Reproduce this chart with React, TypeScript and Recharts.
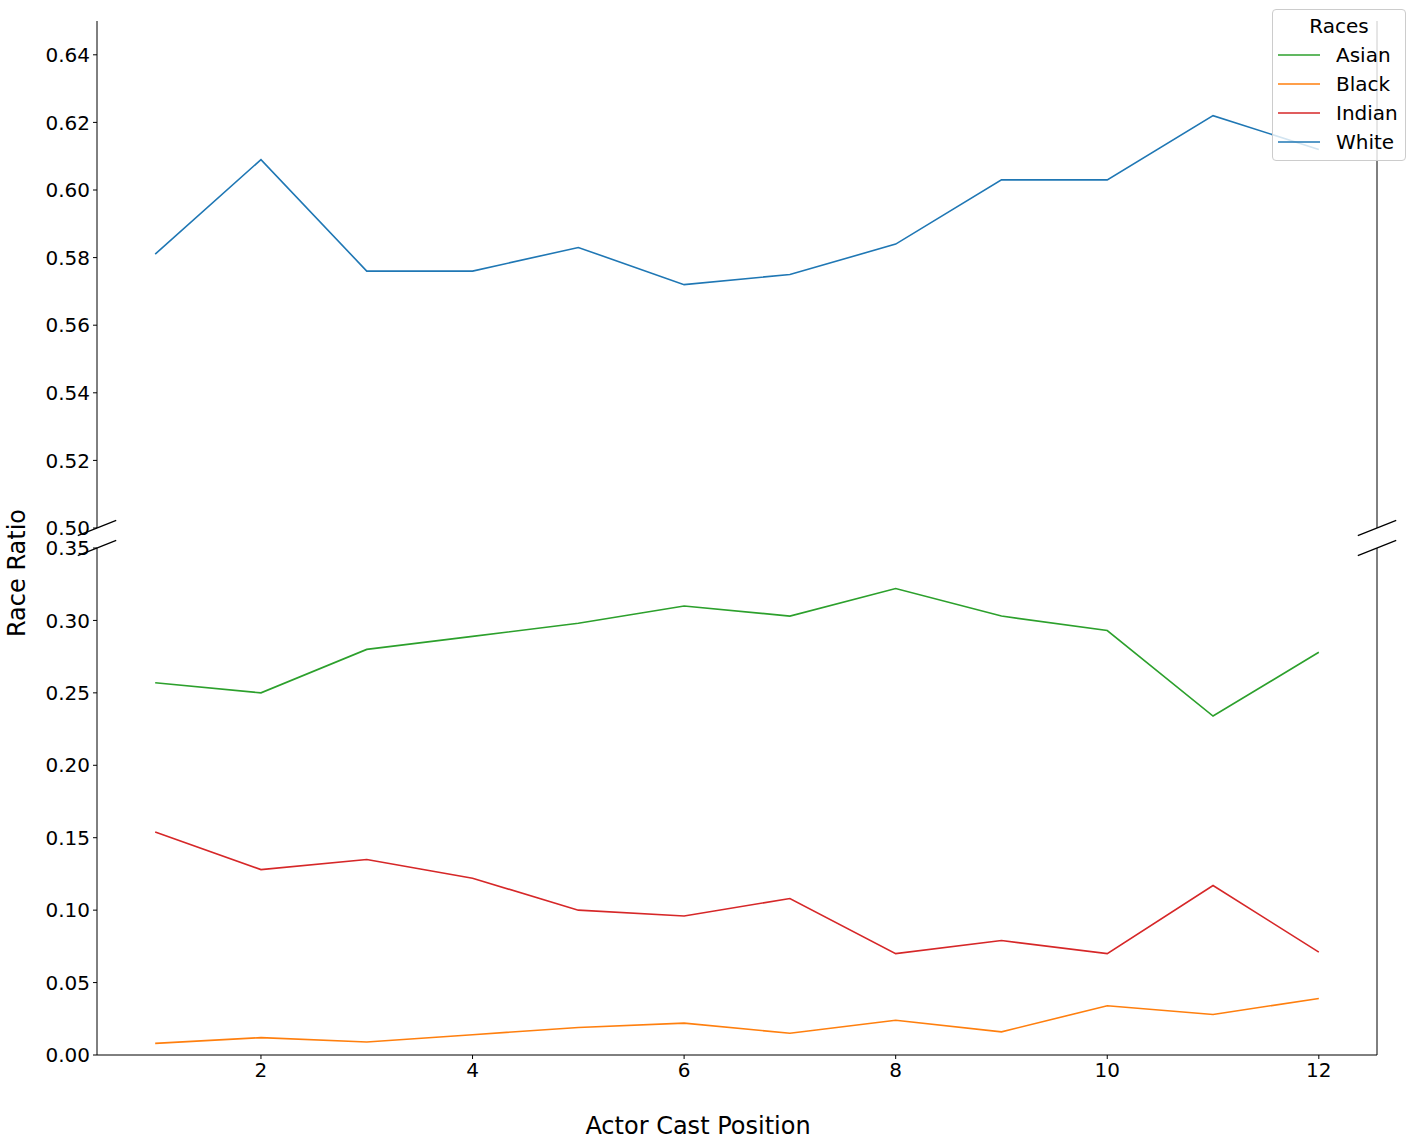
import { LineChart, Line, XAxis, YAxis, ReferenceLine, Legend } from "recharts";

const positions = [1, 2, 3, 4, 5, 6, 7, 8, 9, 10, 11, 12];
const asian = [0.257, 0.25, 0.28, 0.289, 0.298, 0.31, 0.303, 0.322, 0.303, 0.293, 0.234, 0.278];
const black = [0.008, 0.012, 0.009, 0.014, 0.019, 0.022, 0.015, 0.024, 0.016, 0.034, 0.028, 0.039];
const indian = [0.154, 0.128, 0.135, 0.122, 0.1, 0.096, 0.108, 0.07, 0.079, 0.07, 0.117, 0.071];
const white = [0.581, 0.609, 0.576, 0.576, 0.583, 0.572, 0.575, 0.584, 0.603, 0.603, 0.622, 0.612];

const xTicks = [2, 4, 6, 8, 10, 12];
const topTicks = [0.5, 0.52, 0.54, 0.56, 0.58, 0.6, 0.62, 0.64];
const bottomTicks = [0, 0.05, 0.1, 0.15, 0.2, 0.25, 0.3, 0.35];

const xDomain: [number, number] = [0.45, 12.55];
const topDomain: [number, number] = [0.5, 0.65];
const bottomDomain: [number, number] = [0, 0.35];

const series = [
  { key: "Asian", color: "#2ca02c", values: asian },
  { key: "Black", color: "#ff7f0e", values: black },
  { key: "Indian", color: "#d62728", values: indian },
  { key: "White", color: "#1f77b4", values: white },
];

const data = positions.map((pos, i) => {
  const row: any = { pos };
  series.forEach((s) => (row[s.key] = s.values[i]));
  return row;
});

// size of the break marks, as a fraction of each axis span (like matplotlib's d = .015)
const d = 0.015;
const dx = (xDomain[1] - xDomain[0]) * d;

const tickStyle = { fill: "#000", fontSize: 20 };
const fmt = (v: number) => v.toFixed(2);

const renderLegend = () => (
  <div
    style={{
      position: "relative",
      boxSizing: "border-box",
      width: 134,
      height: 152,
      border: "1px solid #cccccc",
      borderRadius: 4,
      background: "rgba(255,255,255,0.8)",
      fontSize: 20,
      color: "#000",
    }}
  >
    <div style={{ position: "absolute", top: 6, left: 0, width: "100%", textAlign: "center", lineHeight: "20px" }}>
      Races
    </div>
    {series.map((s, i) => (
      <div
        key={s.key}
        style={{ position: "absolute", left: 0, top: 30 + i * 29, height: 29, display: "flex", alignItems: "center" }}
      >
        <svg width={42} height={4} style={{ marginLeft: 5 }}>
          <line x1={0} y1={2} x2={42} y2={2} stroke={s.color} strokeWidth={1.6} />
        </svg>
        <span style={{ marginLeft: 16, lineHeight: "20px" }}>{s.key}</span>
      </div>
    ))}
  </div>
);

const breakMarks = (yDomain: [number, number], yAt: number) => {
  const dy = (yDomain[1] - yDomain[0]) * d;
  return [xDomain[0], xDomain[1]].map((x) => (
    <ReferenceLine
      key={`brk-${x}`}
      segment={[
        { x: x - dx, y: yAt - dy },
        { x: x + dx, y: yAt + dy },
      ]}
      stroke="#000"
      strokeWidth={1.2}
      ifOverflow="visible"
    />
  ));
};

const App = () => {
  return (
    <div
      style={{
        position: "absolute",
        left: 0,
        top: 0,
        width: 1415,
        height: 1144,
        background: "#fff",
        fontFamily: "'DejaVu Sans', sans-serif",
      }}
    >
      {/* lower panel: 0 - 0.35 */}
      <div style={{ position: "absolute", left: 0, top: 0 }}>
        <LineChart width={1415} height={1144} data={data} margin={{ top: 548, right: 38, bottom: 49, left: 0 }}>
          <XAxis
            dataKey="pos"
            type="number"
            domain={xDomain}
            ticks={xTicks}
            height={40}
            stroke="#000"
            tick={tickStyle}
            tickSize={4}
            tickMargin={4}
            label={{
              content: () => (
                <text x={698} y={1134} textAnchor="middle" fontSize={24} fill="#000">
                  Actor Cast Position
                </text>
              ),
            }}
          />
          <YAxis
            type="number"
            domain={bottomDomain}
            ticks={bottomTicks}
            width={97}
            allowDataOverflow
            stroke="#000"
            tick={tickStyle}
            tickSize={4}
            tickMargin={3}
            tickFormatter={fmt}
            label={{
              content: () => (
                <text x={25} y={573} transform="rotate(-90 25 573)" textAnchor="middle" fontSize={24} fill="#000">
                  Race Ratio
                </text>
              ),
            }}
          />
          <ReferenceLine x={xDomain[1]} stroke="#000" />
          {series
            .filter((s) => s.key !== "White")
            .map((s) => (
              <Line
                key={s.key}
                type="linear"
                dataKey={s.key}
                stroke={s.color}
                strokeWidth={1.6}
                dot={false}
                isAnimationActive={false}
              />
            ))}
          {breakMarks(bottomDomain, bottomDomain[1])}
        </LineChart>
      </div>

      {/* upper panel: 0.50 - 0.65 */}
      <div style={{ position: "absolute", left: 0, top: 0 }}>
        <LineChart width={1415} height={1144} data={data} margin={{ top: 21, right: 38, bottom: 616, left: 0 }}>
          <XAxis
            dataKey="pos"
            type="number"
            domain={xDomain}
            ticks={xTicks}
            orientation="top"
            height={0}
            stroke="#000"
            tick={false}
            tickSize={4}
          />
          <YAxis
            type="number"
            domain={topDomain}
            ticks={topTicks}
            width={97}
            allowDataOverflow
            stroke="#000"
            tick={tickStyle}
            tickSize={4}
            tickMargin={3}
            tickFormatter={fmt}
          />
          <ReferenceLine x={xDomain[1]} stroke="#000" />
          <Line
            type="linear"
            dataKey="White"
            stroke="#1f77b4"
            strokeWidth={1.6}
            dot={false}
            isAnimationActive={false}
          />
          {breakMarks(topDomain, topDomain[0])}
          <Legend
            layout="vertical"
            align="center"
            verticalAlign="middle"
            content={renderLegend}
            wrapperStyle={{ left: 1272, top: 9, width: 134, height: 152 }}
          />
        </LineChart>
      </div>
    </div>
  );
};

export default App;
